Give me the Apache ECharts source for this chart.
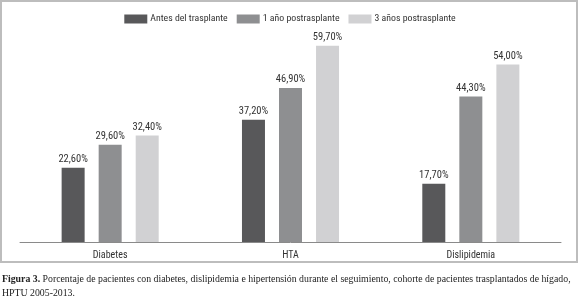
<!DOCTYPE html>
<html><head><meta charset="utf-8">
<script src="https://cdn.jsdelivr.net/npm/echarts@6/dist/echarts.min.js"></script>
<style>html,body{margin:0;padding:0;background:#fff}#c{width:580px;height:304px}</style>
</head><body><div id="c"></div>
<script>
const categories = ['Diabetes', 'HTA', 'Dislipidemia'];
const seriesNames = ['Antes del trasplante', '1 año postrasplante', '3 años postrasplante'];
const antes = [22.6, 37.2, 17.7];
const unAno = [29.6, 46.9, 44.3];
const tresAnos = [32.4, 59.7, 54.0];
const colors = ['#58585a', '#8e8f91', '#d1d1d3'];
const captionBold = 'Figura 3.';
const captionLine1 = ' Porcentaje de pacientes con diabetes, dislipidemia e hipertensión durante el seguimiento, cohorte de pacientes trasplantados de hígado,';
const captionLine2 = 'HPTU 2005-2013.';

const font = '"Roboto Condensed", "Liberation Sans", Arial, sans-serif';
const chart = echarts.init(document.getElementById('c'), null, {renderer: 'canvas'});
const lbl = {show: true, position: 'top', distance: 3, color: '#333', fontSize: 10.5, fontFamily: font,
  formatter: p => p.value.toFixed(2).replace('.', ',') + '%'};
const data = [antes, unAno, tresAnos];
chart.setOption({
  animation: false,
  color: colors,
  legend: {
    top: 9, left: 'center', itemWidth: 23, itemHeight: 9, itemGap: 9,
    textStyle: {fontFamily: font, fontSize: 9.8, color: '#333', padding: [0, 0, 0, -2]},
    icon: 'rect',
    data: seriesNames
  },
  grid: {left: 20, right: 19, top: 12, bottom: 62, containLabel: false},
  xAxis: {
    type: 'category', data: categories,
    axisLine: {lineStyle: {color: '#8a8a8a', width: 1}},
    axisTick: {show: false},
    axisLabel: {fontFamily: font, fontSize: 10, color: '#333', margin: 8}
  },
  yAxis: {type: 'value', min: 0, max: 70, show: false, splitLine: {show: false}},
  series: seriesNames.map((n, i) => ({
    name: n, type: 'bar', data: data[i], barWidth: 23, barGap: '61%',
    label: lbl, itemStyle: {color: colors[i]}
  })),
  graphic: [
    {type: 'rect', shape: {x: 1, y: 1, width: 576, height: 261}, style: {fill: 'none', stroke: '#bdbdbd', lineWidth: 2}, silent: true},
    {type: 'text', left: 2, top: 272, style: {
      text: '{b|' + captionBold + '}' + captionLine1 + '\n' + captionLine2,
      font: '9.8px "Liberation Serif", serif', fill: '#222', lineHeight: 14,
      rich: {b: {fontWeight: 'bold', fontFamily: '"Liberation Serif", serif', fontSize: 9.8, fill: '#222'}}
    }}
  ]
});
</script></body></html>
